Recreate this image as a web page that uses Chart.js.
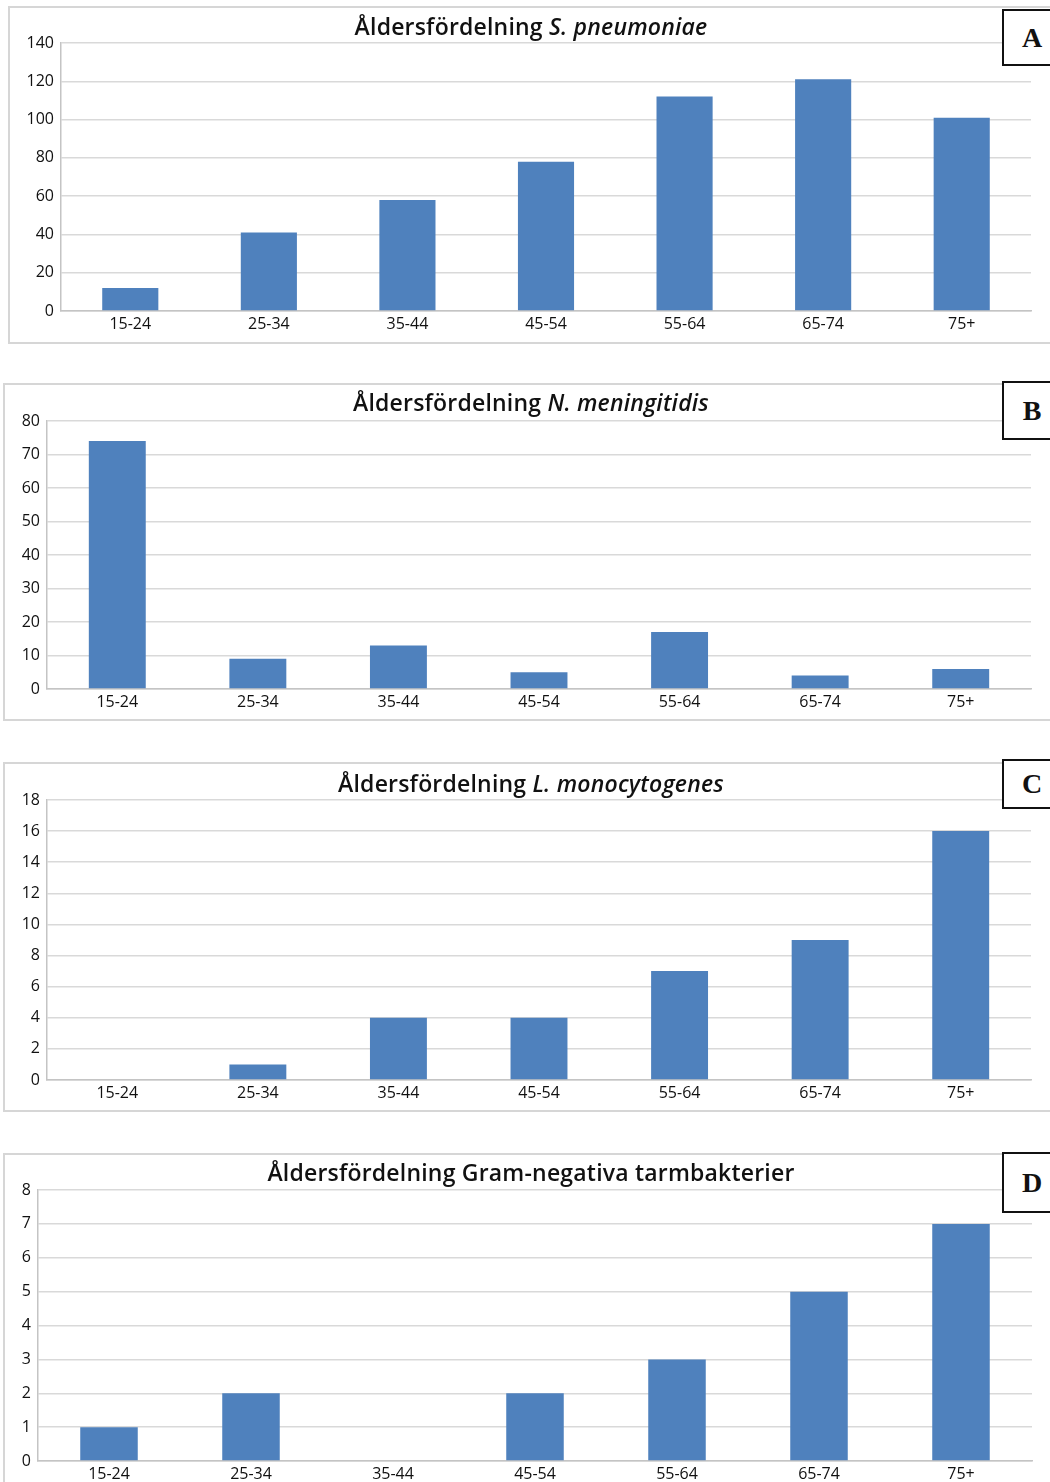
<!DOCTYPE html>
<html>
<head>
<meta charset="utf-8">
<script src="https://cdn.jsdelivr.net/npm/chart.js@4/dist/chart.umd.min.js"></script>
<style>
  html, body { margin: 0; padding: 0; background: #fff; width: 1050px; height: 1482px; overflow: hidden; }
  .wrap { position: relative; width: 1050px; height: 1482px; overflow: hidden; }
  .panel { position: absolute; border: 2px solid #d6d6d6; box-sizing: border-box; background: #fff; }
  canvas { position: absolute; left: 0; }
  .title { position: absolute; left: 0; width: 1062px; text-align: center; font-family: "Open Sans", sans-serif;
           font-weight: 600; font-size: 23px; letter-spacing: 0.2px; color: #111; line-height: 30px; white-space: nowrap; }
  .tag { position: absolute; left: 1002px; width: 60px; box-sizing: border-box; border: 2px solid #111; background: #fff;
         font-family: "Liberation Serif", serif; font-weight: bold; font-size: 28px; color: #111; text-align: center; }
</style>
</head>
<body>
<div class="wrap">
  <div class="panel" style="left:8px;top:6px;width:1070px;height:338px"></div>
  <div class="panel" style="left:3px;top:383px;width:1075px;height:338px"></div>
  <div class="panel" style="left:3px;top:762px;width:1075px;height:350px"></div>
  <div class="panel" style="left:3px;top:1153px;width:1075px;height:360px"></div>

  <canvas id="cA" width="1050" height="350" style="top:0px"></canvas>
  <canvas id="cB" width="1050" height="368" style="top:360px"></canvas>
  <canvas id="cC" width="1050" height="380" style="top:740px"></canvas>
  <canvas id="cD" width="1050" height="370" style="top:1130px"></canvas>

  <div class="title" style="top:11px">Åldersfördelning <i>S. pneumoniae</i></div>
  <div class="title" style="top:387px">Åldersfördelning <i>N. meningitidis</i></div>
  <div class="title" style="top:768px">Åldersfördelning <i>L. monocytogenes</i></div>
  <div class="title" style="top:1157px">Åldersfördelning Gram-negativa tarmbakterier</div>

  <div class="tag" style="top:9px;height:57px;line-height:53px">A</div>
  <div class="tag" style="top:381px;height:59px;line-height:55px">B</div>
  <div class="tag" style="top:759px;height:50px;line-height:46px">C</div>
  <div class="tag" style="top:1152px;height:61px;line-height:57px">D</div>
</div>
<script>
// Age groups shared by all four panels
const ageGroups = ["15-24", "25-34", "35-44", "45-54", "55-64", "65-74", "75+"];

// Case counts per age group
const pneumoniae = [12, 41, 58, 78, 112, 121, 101];
const meningitidis = [74, 9, 13, 5, 17, 4, 6];
const monocytogenes = [0, 1, 4, 4, 7, 9, 16];
const gramNegative = [1, 2, 0, 2, 3, 5, 7];

// Y axis ranges
const yMaxA = 140, yStepA = 20;
const yMaxB = 80, yStepB = 10;
const yMaxC = 18, yStepC = 2;
const yMaxD = 8, yStepD = 1;

Chart.defaults.font.family = "'Open Sans', sans-serif";
Chart.defaults.font.size = 16;
Chart.defaults.color = "#111";

const BAR = "#4f81bd";
const GRID = "#d9d9d9";
const AXIS = "#c4c4c4";

function makeChart(id, values, yMax, yStep, box) {
  new Chart(document.getElementById(id), {
    type: "bar",
    data: {
      labels: ageGroups,
      datasets: [{
        data: values,
        backgroundColor: BAR,
        borderWidth: 0,
        categoryPercentage: 1.0,
        barPercentage: 0.405
      }]
    },
    options: {
      responsive: false,
      animation: false,
      events: [],
      layout: { padding: { top: box.top, bottom: box.bottom, left: 0, right: box.right } },
      plugins: { legend: { display: false }, tooltip: { enabled: false }, title: { display: false } },
      scales: {
        x: {
          grid: { display: false, drawTicks: false },
          border: { display: true, color: AXIS, width: 1.5 },
          ticks: { padding: 4, maxRotation: 0, autoSkip: false, font: { size: 16 } },
          afterFit: s => { s.height = 30; }
        },
        y: {
          min: 0,
          max: yMax,
          grid: { color: GRID, lineWidth: 1.5, drawTicks: false },
          border: { display: true, color: AXIS, width: 1.5 },
          ticks: { stepSize: yStep, padding: 7, font: { size: 16 } },
          afterFit: s => { s.width = box.left; }
        }
      }
    }
  });
}

makeChart("cA", pneumoniae, yMaxA, yStepA, { top: 43, bottom: 9, left: 61, right: 19 });
makeChart("cB", meningitidis, yMaxB, yStepB, { top: 61, bottom: 9, left: 47, right: 19 });
makeChart("cC", monocytogenes, yMaxC, yStepC, { top: 60, bottom: 10, left: 47, right: 19 });
makeChart("cD", gramNegative, yMaxD, yStepD, { top: 60, bottom: 9, left: 38, right: 18 });
</script>
</body>
</html>
